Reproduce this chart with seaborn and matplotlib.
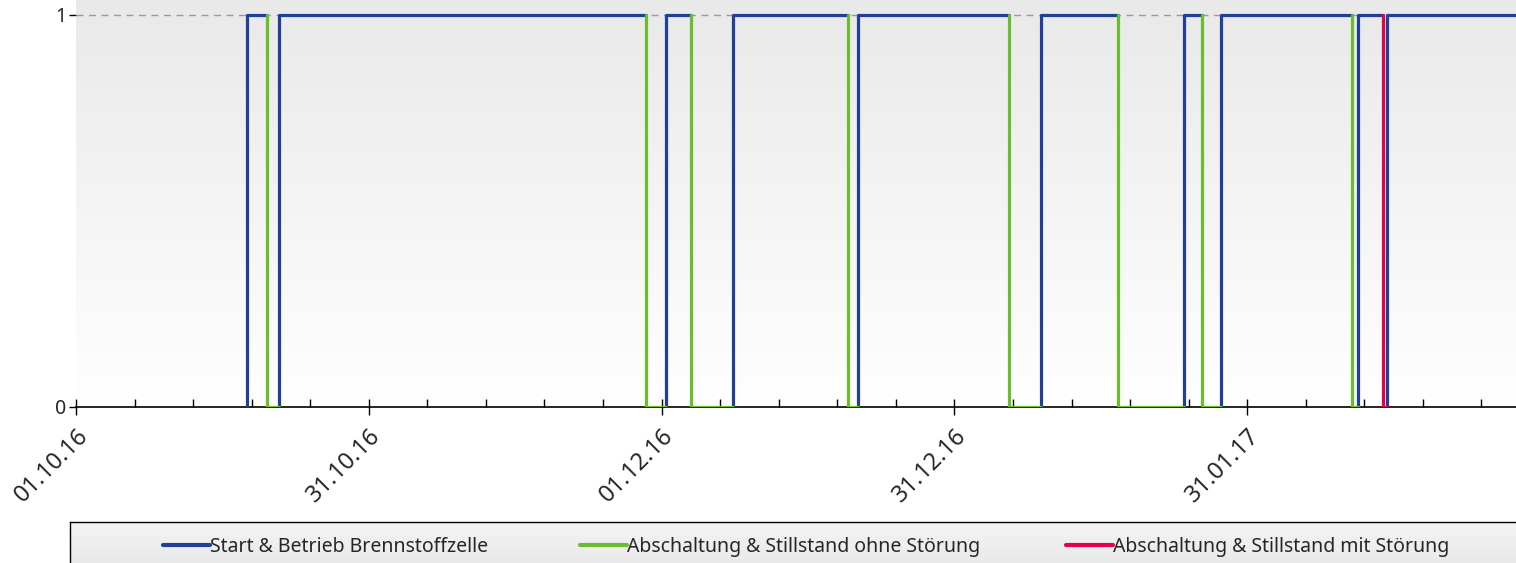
import numpy as np
import pandas as pd
import matplotlib
matplotlib.use("Agg")
import matplotlib.pyplot as plt
import seaborn as sns
from matplotlib.lines import Line2D
from matplotlib.colors import LinearSegmentedColormap
from matplotlib.ticker import FixedLocator, MultipleLocator

# ---- data (days since 01.10.2016) ----
run_start = [17.8, 21.1, 61.5, 68.4, 81.5, 100.5, 115.4, 119.3, 133.5, 136.6]
run_end = [19.9, 59.4, 64.1, 80.4, 97.2, 108.5, 117.3, 132.9, 136.1, 150.0]
stop_ok = [19.9, 59.4, 64.1, 80.4, 97.2, 108.5, 117.3, 132.9]
restart_ok = [21.1, 61.5, 68.4, 81.5, 100.5, 115.4, 119.3, 133.5]
stop_fault = [136.1]
restart_fault = [136.6]

tick_labels = ["01.10.16", "31.10.16", "01.12.16", "31.12.16", "31.01.17"]
series_names = ["Start & Betrieb Brennstoffzelle",
                "Abschaltung & Stillstand ohne Störung",
                "Abschaltung & Stillstand mit Störung"]
colors = ["#1f3f98", "#6cbd2e", "#e5004f"]


def run_frame(starts, ends):
    rows = []
    for i, (s, e) in enumerate(zip(starts, ends)):
        rows += [(i, s, 0), (i, s, 1), (i, e, 1)]
    return pd.DataFrame(rows, columns=["seg", "t", "v"])


def stop_frame(stops, restarts):
    rows = []
    for i, (s, r) in enumerate(zip(stops, restarts)):
        rows += [(i, s, 1), (i, s, 0), (i, r, 0)]
    return pd.DataFrame(rows, columns=["seg", "t", "v"])


sns.set_theme(style="white")
plt.rcParams["font.family"] = ["Noto Sans", "DejaVu Sans"]

W, H = 1516, 563
fig = plt.figure(figsize=(W / 100, H / 100), dpi=100)
fig.patch.set_facecolor("white")

ax = fig.add_axes([76 / W, 1 - 407 / H, 1 - 76 / W, 407 / H])
xmax, ytop = 150, 1.038
ax.set_xlim(0, xmax)
ax.set_ylim(0, ytop)

# background gradient
grad = np.linspace(0, 1, 256).reshape(-1, 1)
cmap_bg = LinearSegmentedColormap.from_list("bg", ["#ffffff", "#e9e9e9"])
ax.imshow(grad, extent=[0, xmax, 0, ytop], origin="lower", aspect="auto",
          cmap=cmap_bg, zorder=0)

ax.axhline(1, color="#9a9a9a", lw=1.0, ls=(0, (5, 4)), zorder=1)

frames = [run_frame(run_start, run_end),
          stop_frame(stop_ok, restart_ok),
          stop_frame(stop_fault, restart_fault)]
for df, c in zip(frames, colors):
    sns.lineplot(data=df, x="t", y="v", units="seg", estimator=None, sort=False,
                 color=c, lw=2.3, ax=ax, legend=False, zorder=3)

ax.set_xlabel("")
ax.set_ylabel("")
for s in ["top", "right", "left"]:
    ax.spines[s].set_visible(False)
ax.spines["bottom"].set_color("black")
ax.spines["bottom"].set_linewidth(1.2)
ax.spines["bottom"].set_zorder(2)

ax.xaxis.set_major_locator(FixedLocator(np.arange(0, xmax, 30.5)))
ax.xaxis.set_minor_locator(MultipleLocator(6.1))
ax.set_xticklabels(tick_labels, rotation=45, ha="right", va="top",
                   rotation_mode="anchor", fontsize=17)
ax.tick_params(axis="x", which="major", bottom=True, direction="inout",
               length=12, width=1, color="black", pad=6)
ax.tick_params(axis="x", which="minor", bottom=True, direction="in",
               length=6, width=1, color="black")
ax.set_yticks([0, 1])
ax.set_yticklabels(["0", "1"], fontsize=14)
ax.tick_params(axis="y", left=True, direction="out", length=5, width=1,
               color="black", pad=2)

# legend box
lax = fig.add_axes([70 / W, -0.1, 1.0, (H - 522) / H + 0.1])
lgrad = np.linspace(0, 1, 256).reshape(-1, 1)
cmap_lg = LinearSegmentedColormap.from_list("lg", ["#dcdcdc", "#f4f4f4"])
lax.imshow(lgrad, extent=[0, 1, 0, 1], origin="lower", aspect="auto",
           cmap=cmap_lg)
lax.set_xlim(0, 1)
lax.set_ylim(0, 1)
lax.set_xticks([])
lax.set_yticks([])
for s in lax.spines.values():
    s.set_color("black")
    s.set_linewidth(1)

leg_x = [163, 580, 1066]
for name, c, x in zip(series_names, colors, leg_x):
    h = Line2D([], [], color=c, lw=3)
    fig.legend(handles=[h], labels=[name], loc="center left",
               bbox_to_anchor=(x / W, 1 - 547 / H), frameon=False,
               fontsize=14, handlelength=2.42, handletextpad=0.0,
               borderpad=0, borderaxespad=0)

fig.savefig("out.png", dpi=100)
